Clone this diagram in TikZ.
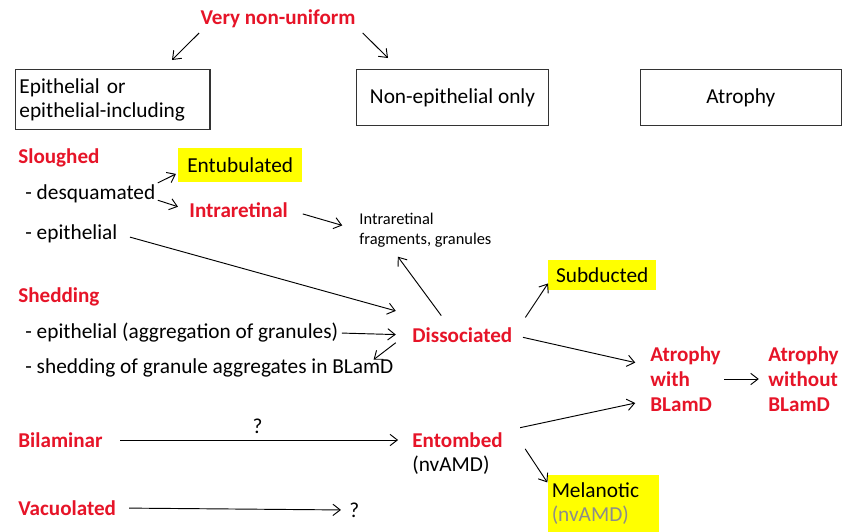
\documentclass[tikz,border=0pt]{standalone}
\usepackage{fontspec}
\setmainfont{Carlito}
\usetikzlibrary{arrows.meta}
\definecolor{hotred}{RGB}{230,20,40}
\definecolor{hilite}{RGB}{255,255,0}
\definecolor{greytext}{RGB}{140,140,140}
\tikzset{
  lbl/.style={inner sep=1pt,anchor=west},
  hot/.style={lbl,text=hotred,font=\fontsize{18}{21.3}\selectfont\bfseries},
  catbox/.style={draw=black!80,line width=0.9pt,anchor=north west},
  yel/.style={fill=hilite,anchor=north west,inner sep=3pt},
  arr/.style={-{Straight Barb[length=2.2mm,width=3.4mm]},line width=0.8pt}
}
\begin{document}
\begin{tikzpicture}[x=0.03cm,y=-0.03cm,font=\fontsize{18.2}{20.6}\selectfont]%[>=stealth]
\useasboundingbox (0,0) rectangle (842,531);
\node[hot,anchor=center] (vnu) at (278,19) {Very non-uniform};
\coordinate (vl) at (172,60);
\coordinate (vr) at (388,58);
\draw[arr] ([yshift=-3pt]vnu.south west) -- (vl);
\draw[arr] ([shift={(5pt,-3pt)}]vnu.south east) -- (vr);
\node[catbox,text width=5.6cm,minimum height=1.8cm,align=left] (epi) at (15,69) {Epithelial or\\epithelial-including};
\node[catbox,minimum width=5.76cm,minimum height=1.68cm] (nonepi) at (356,69) {Non-epithelial only};
\node[catbox,minimum width=6.02cm,minimum height=1.68cm] (atro) at (640,69) {Atrophy};
% sloughed
\node[hot] (slo) at (17,158) {Sloughed};
\node[lbl] (desq) at (24,194) {- desquamated};
\node[yel,minimum width=3.72cm,minimum height=1.02cm] (entu) at (178,148) {Entubulated};
\node[hot] (intra) at (188,210) {Intraretinal};
\node[lbl] (epith) at (24,234) {- epithelial};
\node[lbl,align=left,font=\fontsize{14}{17}\selectfont] (frag) at (358,230) {Intraretinal\\fragments, granules};
\draw[arr,shorten <=1pt,shorten >=2pt] (desq.north east) -- (entu.187);
\draw[arr,shorten <=1pt,shorten >=9pt] ([yshift=-5pt]desq.east) -- (intra.west);
\draw[arr,shorten <=12pt,shorten >=14pt] (intra.east) -- (frag.west);
% shedding
\node[hot] (shd) at (17,297) {Shedding};
\node[lbl] (epiagg) at (24,333) {- epithelial (aggregation of granules)};
\node[hot] (diss) at (411,335) {Dissociated};
\node[lbl] (gran) at (24,368) {- shedding of granule aggregates in BLamD};
\node[yel,minimum width=3.24cm,minimum height=0.9cm] (sub) at (548,260) {Subducted};
\draw[arr,shorten <=10pt] (epith.east) -- ([shift={(-13pt,13pt)}]diss.north west);
\draw[arr,shorten <=2pt,shorten >=13pt] (epiagg.east) -- (diss.west);
\draw[arr] ([shift={(-18pt,9pt)}]diss.north) -- ([shift={(34pt,-7pt)}]frag.south west);
\draw[arr] ([shift={(-13pt,1pt)}]diss.south west) -- ([shift={(-18pt,-2pt)}]gran.north east);
\draw[arr] ([shift={(10pt,15pt)}]diss.east) -- ([yshift=6pt]sub.south west);
% atrophy
\node[hot,align=left] (atw) at (649,379) {Atrophy\\with\\BLamD};
\node[hot,align=left] (atwo) at (767,379) {Atrophy\\without\\BLamD};
\draw[arr,shorten >=12pt] ([shift={(8pt,-2pt)}]diss.east) -- (atw.160);
\draw[arr,shorten <=2pt,shorten >=7pt] (atw.east) -- (atwo.west);
% bilaminar, vacuolated
\node[hot] (bil) at (17,440) {Bilaminar};
\node[hot] (ent) at (411,440) {Entombed};
\node[lbl] (entn) at (411,465) {(nvAMD)};
\node[yel,minimum width=3.3cm,minimum height=1.7cm,text width=3.1cm,align=left] (mel) at (548,475) {Melanotic\\\textcolor{greytext}{(nvAMD)}};
\draw[arr,shorten <=14pt,shorten >=11pt] (bil.east) -- node[midway,above=2pt] {?} (ent.west);
\draw[arr,shorten <=14pt,shorten >=12pt] (ent.north east) -- (atw.210);
\draw[arr,shorten >=1pt] ([xshift=18pt]ent.south east) -- (mel.160);
\node[hot] (vac) at (17,508) {Vacuolated};
\node[lbl] (q) at (348,510) {?};
\draw[arr,shorten <=10pt,shorten >=6pt] (vac.east) -- (q.west);
\end{tikzpicture}
\end{document}
